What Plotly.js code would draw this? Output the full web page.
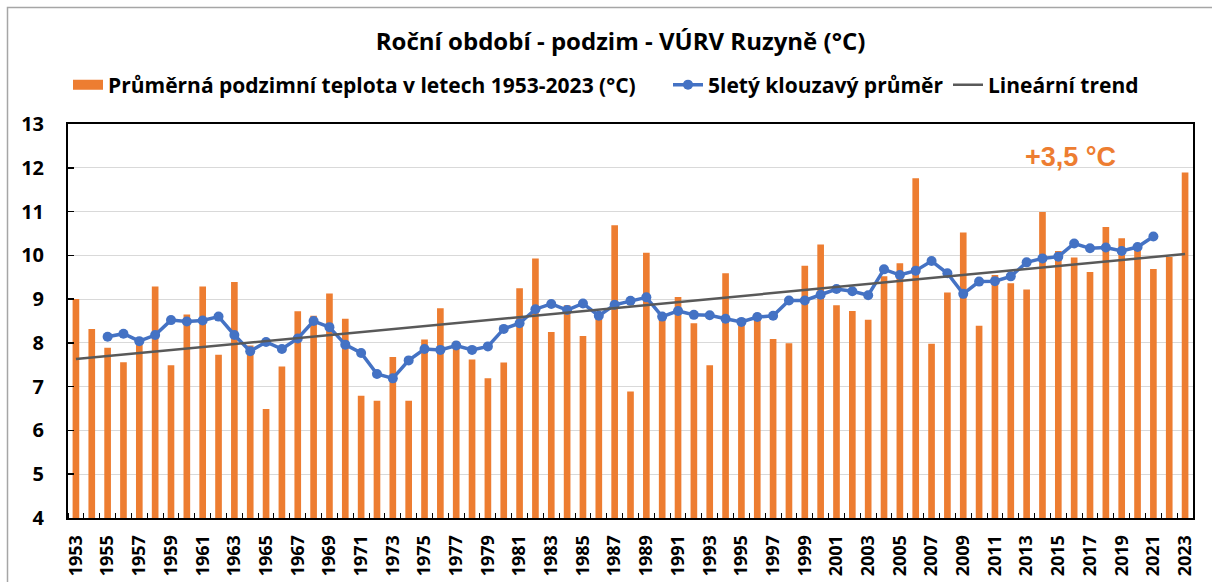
<!DOCTYPE html>
<html>
<head>
<meta charset="utf-8">
<script src="https://cdn.plot.ly/plotly-3.0.1.min.js"></script>
<style>html,body{margin:0;padding:0;background:#fff;}#chart{width:1212px;height:582px;}</style>
</head>
<body>
<div id="chart"></div>
<script>
// ---- data ----
const years = [1953,1954,1955,1956,1957,1958,1959,1960,1961,1962,1963,1964,1965,1966,1967,1968,1969,1970,
  1971,1972,1973,1974,1975,1976,1977,1978,1979,1980,1981,1982,1983,1984,1985,1986,1987,1988,1989,1990,
  1991,1992,1993,1994,1995,1996,1997,1998,1999,2000,2001,2002,2003,2004,2005,2006,2007,2008,2009,2010,
  2011,2012,2013,2014,2015,2016,2017,2018,2019,2020,2021,2022,2023];
const autumnTemp = [9.00,8.32,7.89,7.56,7.95,9.29,7.49,8.65,9.29,7.73,9.39,7.94,6.49,7.46,8.72,8.62,9.13,8.55,
  6.79,6.68,7.68,6.68,8.08,8.79,8.03,7.62,7.19,7.55,9.25,9.93,8.25,8.86,8.16,8.55,10.69,6.89,10.06,8.55,
  9.05,8.45,7.49,9.59,8.57,8.68,8.09,7.99,9.76,10.25,8.86,8.73,8.53,9.52,9.82,11.76,7.98,9.15,10.52,8.39,
  9.55,9.36,9.22,10.99,10.10,9.95,9.62,10.65,10.39,10.23,9.69,9.96,11.89];
const maYears = [1955,1956,1957,1958,1959,1960,1961,1962,1963,1964,1965,1966,1967,1968,1969,1970,
  1971,1972,1973,1974,1975,1976,1977,1978,1979,1980,1981,1982,1983,1984,1985,1986,1987,1988,1989,1990,
  1991,1992,1993,1994,1995,1996,1997,1998,1999,2000,2001,2002,2003,2004,2005,2006,2007,2008,2009,2010,
  2011,2012,2013,2014,2015,2016,2017,2018,2019,2020,2021];
const movingAvg = [8.14,8.21,8.04,8.18,8.52,8.49,8.51,8.60,8.18,7.81,8.02,7.86,8.10,8.50,8.36,7.96,
  7.77,7.29,7.19,7.60,7.86,7.84,7.94,7.84,7.92,8.32,8.45,8.77,8.89,8.75,8.90,8.62,8.87,8.96,9.04,8.60,
  8.73,8.64,8.63,8.55,8.48,8.59,8.62,8.97,8.97,9.10,9.23,9.18,9.09,9.68,9.55,9.65,9.87,9.59,9.12,9.40,
  9.41,9.52,9.84,9.93,9.97,10.27,10.16,10.18,10.10,10.19,10.43];
const trendYears = [1953, 2023];
const trendValues = [7.63, 10.03];
const labelYears = years.filter(y => y % 2 === 1);
const labelText = labelYears.map(String);
const boundaries = years.map(y => y - 0.5).concat([years[years.length-1] + 0.5]);

const FONT = '"Open Sans", "Liberation Sans", sans-serif';
const BAR_NAME = 'Průměrná podzimní teplota v letech 1953-2023 (°C)';

const traces = [
  {
    type: 'bar', x: years, y: autumnTemp, width: 0.42,
    name: BAR_NAME, showlegend: false,
    marker: {color: '#ED7D31'}, hoverinfo: 'x+y'
  },
  {
    // legend proxy: wide orange swatch like the original legend key
    type: 'scatter', mode: 'lines', x: [null], y: [null],
    name: BAR_NAME, showlegend: true, legend: 'legend',
    line: {color: '#ED7D31', width: 13}
  },
  {
    type: 'scatter', mode: 'lines+markers', x: maYears, y: movingAvg,
    name: '5letý klouzavý průměr', legend: 'legend2',
    line: {color: '#4472C4', width: 3.5}, marker: {color: '#4472C4', size: 10}
  },
  {
    type: 'scatter', mode: 'lines', x: trendYears, y: trendValues,
    name: 'Lineární trend', legend: 'legend3',
    line: {color: '#595959', width: 2.5}
  }
];

const legendFont = {family: FONT, size: 21, weight: 'bold', color: '#000'};
const legendBase = {orientation: 'h', xanchor: 'left', y: 1.099, yanchor: 'middle', font: legendFont, bgcolor: 'rgba(0,0,0,0)'};

const layout = {
  width: 1212, height: 582,
  margin: {l: 68, r: 19, t: 124, b: 64},
  paper_bgcolor: '#fff', plot_bgcolor: '#fff',
  font: {family: FONT, color: '#000'},
  title: {
    text: 'Roční období - podzim - VÚRV Ruzyně (°C)',
    font: {family: FONT, size: 24, weight: 'bold', color: '#000'},
    xref: 'container', yref: 'container', x: 0.512, y: 0.928,
    xanchor: 'center', yanchor: 'middle'
  },
  showlegend: true,
  legend: Object.assign({}, legendBase, {x: 0.0}),
  legend2: Object.assign({}, legendBase, {x: (668 - 68) / 1125}),
  legend3: Object.assign({}, legendBase, {x: (948 - 68) / 1125}),
  xaxis: {
    type: 'linear', range: [1952.5, 2023.5],
    tickmode: 'array', tickvals: labelYears, ticktext: labelText,
    tickangle: -90, ticks: '', ticklabelstandoff: 8,
    tickfont: {family: FONT, size: 18, weight: 'bold', color: '#000'},
    showgrid: false, zeroline: false,
    showline: true, linecolor: '#000', linewidth: 2, mirror: true,
    minor: {tickmode: 'array', tickvals: boundaries, ticks: 'inside', ticklen: 5, tickcolor: '#000', tickwidth: 1, showgrid: false}
  },
  yaxis: {
    range: [4, 13], dtick: 1, tick0: 4,
    ticks: 'inside', ticklen: 6, tickcolor: '#000', tickwidth: 1.5,
    tickfont: {family: FONT, size: 20, weight: 'bold', color: '#000'},
    ticklabelstandoff: 18,
    showgrid: true, gridcolor: '#d9d9d9', gridwidth: 1,
    zeroline: false, showline: true, linecolor: '#000', linewidth: 2, mirror: true
  },
  bargap: 0.5,
  annotations: [{
    xref: 'paper', yref: 'paper', x: 0.891, y: 0.915,
    text: '+3,5 °C', showarrow: false, xanchor: 'center', yanchor: 'middle',
    font: {family: '"Liberation Sans", Arial, sans-serif', size: 27, weight: 'bold', color: '#ED7D31'}
  }],
  shapes: [{
    type: 'rect', xref: 'paper', yref: 'paper',
    x0: (7.5 - 68) / 1125, x1: (1220 - 68) / 1125,
    y0: (518 - 600) / 394, y1: (518 - 7.5) / 394,
    line: {color: '#a6a6a6', width: 1.5}, fillcolor: 'rgba(0,0,0,0)', layer: 'below'
  }]
};

Plotly.newPlot('chart', traces, layout, {displayModeBar: false, staticPlot: true});
</script>
</body>
</html>
